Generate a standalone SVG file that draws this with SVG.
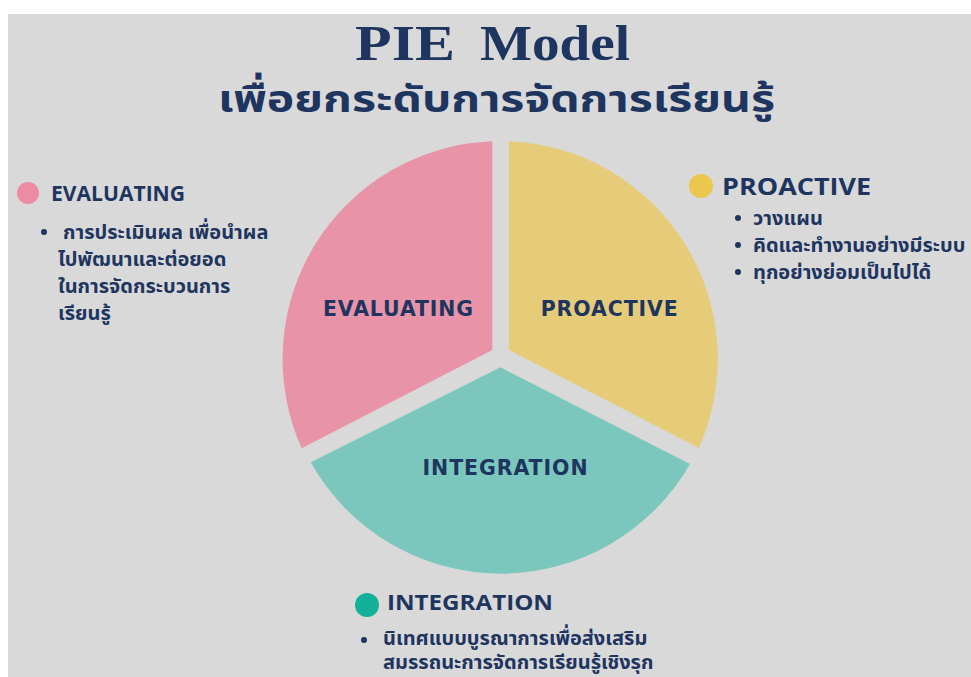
<svg xmlns="http://www.w3.org/2000/svg" width="971" height="677" viewBox="0 0 971 677">
  <style>
    .navy { fill: #1d355f; }
    .title-en { font-family: "Liberation Serif", "DejaVu Serif", serif; font-weight: bold; font-size: 50px; }
    .title-th { font-family: "Noto Sans Thai", "Noto Sans", "DejaVu Sans", sans-serif; font-weight: bold; font-size: 38px; }
    .slice-label { font-family: "DejaVu Sans", "Liberation Sans", sans-serif; font-weight: bold; font-size: 22px; letter-spacing: 1px; }
    .legend-head { font-family: "Open Sans", "Liberation Sans", sans-serif; font-weight: 700; font-size: 22px; }
    .bullet-text { font-family: "Noto Sans Thai", "Noto Sans", "DejaVu Sans", sans-serif; font-weight: bold; font-size: 20px; }
  </style>
  <rect x="0" y="0" width="971" height="677" fill="#ffffff"/>
  <rect x="8" y="14" width="963" height="663" fill="#d9d9d9"/>

  <g id="title" class="navy">
    <text class="title-en" x="355" y="60" textLength="100" lengthAdjust="spacingAndGlyphs">PIE</text>
    <text class="title-en" x="480" y="60" textLength="150" lengthAdjust="spacingAndGlyphs">Model</text>
    <text class="title-th" x="218" y="112" textLength="557" lengthAdjust="spacingAndGlyphs">เพื่อยกระดับการจัดการเรียนรู้</text>
  </g>

  <g id="slice-evaluating">
    <path d="M492.3,141.2 A218,218 0 0 0 301.7,448.3 L492.3,350 Z" fill="#e893a7"/>
    <text class="slice-label navy" x="398.5" y="316" text-anchor="middle" textLength="151" lengthAdjust="spacingAndGlyphs">EVALUATING</text>
  </g>
  <g id="slice-proactive">
    <path d="M509,141.2 A218,218 0 0 1 698.8,448 L509,350 Z" fill="#e6cc79"/>
    <text class="slice-label navy" x="609.7" y="316" text-anchor="middle" textLength="138" lengthAdjust="spacingAndGlyphs">PROACTIVE</text>
  </g>
  <g id="slice-integration">
    <path d="M500.5,367.3 L310.7,462.3 A218,218 0 0 0 690,464 Z" fill="#7cc7bd"/>
    <text class="slice-label navy" x="505.5" y="475" text-anchor="middle" textLength="166" lengthAdjust="spacingAndGlyphs">INTEGRATION</text>
  </g>

  <g id="legend-evaluating">
    <circle cx="28" cy="193" r="11" fill="#ec8ba1"/>
    <text class="legend-head navy" x="51" y="201" textLength="134" lengthAdjust="spacingAndGlyphs">EVALUATING</text>
    <circle cx="44" cy="232" r="3" class="navy"/>
    <text class="bullet-text navy" x="63" y="239">การประเมินผล เพื่อนำผล</text>
    <text class="bullet-text navy" x="58" y="266">ไปพัฒนาและต่อยอด</text>
    <text class="bullet-text navy" x="58" y="293">ในการจัดกระบวนการ</text>
    <text class="bullet-text navy" x="58" y="320">เรียนรู้</text>
  </g>

  <g id="legend-proactive">
    <circle cx="701" cy="186" r="12" fill="#ecc74f"/>
    <text class="legend-head navy" x="722" y="195" textLength="149" lengthAdjust="spacingAndGlyphs" style="font-size:24px">PROACTIVE</text>
    <circle cx="738" cy="218" r="3" class="navy"/>
    <text class="bullet-text navy" x="753" y="225">วางแผน</text>
    <circle cx="738" cy="245" r="3" class="navy"/>
    <text class="bullet-text navy" x="753" y="252">คิดและทำงานอย่างมีระบบ</text>
    <circle cx="738" cy="272" r="3" class="navy"/>
    <text class="bullet-text navy" x="753" y="279">ทุกอย่างย่อมเป็นไปได้</text>
  </g>

  <g id="legend-integration">
    <circle cx="367" cy="605" r="12" fill="#14b19a"/>
    <text class="legend-head navy" x="387" y="610" textLength="166" lengthAdjust="spacingAndGlyphs">INTEGRATION</text>
    <circle cx="364" cy="640" r="3" class="navy"/>
    <text class="bullet-text navy" x="383" y="645">นิเทศแบบบูรณาการเพื่อส่งเสริม</text>
    <text class="bullet-text navy" x="383" y="669">สมรรถนะการจัดการเรียนรู้เชิงรุก</text>
  </g>
</svg>
